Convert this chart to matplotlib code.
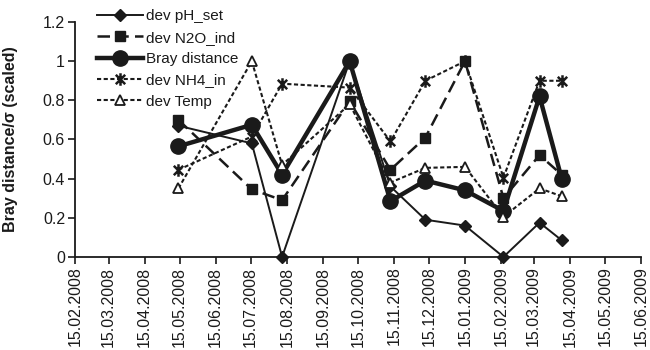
import numpy as np
import matplotlib.pyplot as plt
import matplotlib.dates as mdates
from matplotlib.path import Path

plt.rcParams['font.family'] = ['Liberation Sans', 'DejaVu Sans']

# sampling dates and scaled deviations
dates = np.array(['2008-05-14', '2008-07-16', '2008-08-11', '2008-10-08', '2008-11-12',
                  '2008-12-12', '2009-01-15', '2009-02-17', '2009-03-20', '2009-04-08'],
                 dtype='datetime64[D]')
ph_set = [0.67, 0.58, 0.0, 1.0, 0.36, 0.19, 0.16, 0.0, 0.175, 0.085]
n2o_ind = [0.70, 0.345, 0.29, 0.795, 0.445, 0.61, 1.0, 0.30, 0.52, 0.42]
bray = [0.565, 0.675, 0.42, 1.0, 0.285, 0.39, 0.34, 0.235, 0.82, 0.40]
nh4_in = [0.445, 0.615, 0.885, 0.865, 0.59, 0.90, 1.0, 0.405, 0.90, 0.90]
temp = [0.35, 1.0, 0.47, 0.78, 0.38, 0.455, 0.46, 0.205, 0.35, 0.31]

x_start = np.datetime64('2008-02-15')
x_end = np.datetime64('2009-06-15')

col = '#1a1a1a'

# excel-like star marker: vertical bar plus an X
star = Path([(0, -1), (0, 1), (-0.75, -0.75), (0.75, 0.75), (-0.75, 0.75), (0.75, -0.75)],
            [Path.MOVETO, Path.LINETO, Path.MOVETO, Path.LINETO, Path.MOVETO, Path.LINETO])

fig = plt.figure(figsize=(6.5, 3.5), dpi=100)
ax = fig.add_axes([0.115, 0.266, 0.871, 0.671])

ax.plot(dates, ph_set, color=col, lw=1.4, marker='D', ms=6.5, label='dev pH_set', clip_on=False)
ax.plot(dates, n2o_ind, color=col, lw=1.8, dashes=(5, 2.5), marker='s', ms=7,
        label='dev N2O_ind', clip_on=False)
ax.plot(dates, bray, color=col, lw=3.2, marker='o', ms=11, label='Bray distance', clip_on=False)
ax.plot(dates, nh4_in, color=col, lw=1.5, dashes=(2, 1.2), marker=star, ms=9, mew=1.8,
        label='dev NH4_in', clip_on=False)
ax.plot(dates, temp, color=col, lw=1.5, dashes=(2, 1.2), marker='^', ms=7, mfc='white',
        mew=1.3, label='dev Temp', clip_on=False)

ax.set_ylim(0, 1.2)
ax.set_yticks([0, 0.2, 0.4, 0.6, 0.8, 1.0, 1.2])
ax.set_yticklabels(['0', '0.2', '0.4', '0.6', '0.8', '1', '1.2'])
ax.set_xlim(x_start, x_end)
ax.xaxis.set_major_locator(mdates.MonthLocator(bymonthday=15))
ax.xaxis.set_major_formatter(mdates.DateFormatter('%d.%m.%Y'))

for s in ['top', 'right']:
    ax.spines[s].set_visible(False)
for s in ['left', 'bottom']:
    ax.spines[s].set_color(col)
    ax.spines[s].set_linewidth(1.3)
ax.tick_params(axis='both', colors=col, labelsize=11.5, length=5, width=1.2, pad=2)
ax.tick_params(axis='x', labelrotation=90)

ax.set_ylabel('Bray distance/σ (scaled)', fontsize=11.5, fontweight='bold', color=col)
ax.yaxis.set_label_coords(-0.1, 0.5)

ax.legend(loc='upper left', bbox_to_anchor=(0.135, 1.0), bbox_transform=fig.transFigure,
          frameon=False, fontsize=11, handlelength=3.0, handletextpad=0.2,
          labelspacing=0.48, borderpad=0.12, labelcolor=col)

fig.savefig('out.png', dpi=100)
